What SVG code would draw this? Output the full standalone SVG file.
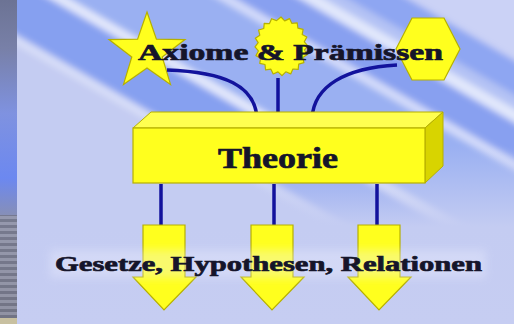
<svg xmlns="http://www.w3.org/2000/svg" width="514" height="324" viewBox="0 0 514 324">
<defs>
<linearGradient id="strip" x1="0" y1="0" x2="0" y2="1">
<stop offset="0" stop-color="#6c7394"/>
<stop offset="0.15" stop-color="#7880a8"/>
<stop offset="0.35" stop-color="#7f92e0"/>
<stop offset="0.55" stop-color="#6c88f0"/>
<stop offset="0.68" stop-color="#8a90b0"/>
<stop offset="1" stop-color="#7a7c8c"/>
</linearGradient>
<pattern id="lines" width="17" height="6" patternUnits="userSpaceOnUse">
<rect width="17" height="3" fill="#9a9cac"/>
<rect y="3" width="17" height="3" fill="#6e7080"/>
</pattern>
<linearGradient id="fade" x1="0" y1="0" x2="0" y2="1">
<stop offset="0" stop-color="#c4ccf2" stop-opacity="0"/>
<stop offset="0.45" stop-color="#c4ccf2" stop-opacity="0"/>
<stop offset="0.7" stop-color="#c4ccf2" stop-opacity="1"/>
<stop offset="1" stop-color="#c6cdf2" stop-opacity="1"/>
</linearGradient>
<filter id="blur" x="-10%" y="-10%" width="120%" height="120%"><feGaussianBlur stdDeviation="3"/></filter>
<filter id="halo" x="-10%" y="-50%" width="120%" height="200%"><feGaussianBlur stdDeviation="4"/></filter>
</defs>
<style>
.shape{fill:#ffff1e;stroke:#b6b000;stroke-width:1.2}
.top{fill:#ffff50;stroke:#b6b000;stroke-width:1}
.side{fill:#d8d400;stroke:#b6b000;stroke-width:1}
.lbl{font-family:"Liberation Serif","Times New Roman",serif;font-weight:bold;fill:#15152a;stroke:#15152a;stroke-width:0.7}
.conn{fill:none;stroke:#12129c;stroke-width:3.5;stroke-linecap:butt}
</style>

<!-- background -->
<rect x="0" y="0" width="514" height="324" fill="#c4ccf2"/>
<g filter="url(#blur)">
<g transform="rotate(30)">
<rect x="-60" y="-320" width="760" height="115" fill="#cbd2f6"/>
<rect x="-60" y="-205" width="760" height="30" fill="#8ea6f2"/>
<rect x="-60" y="-175" width="760" height="12" fill="#b4c2f4"/>
<rect x="-60" y="-163" width="760" height="12" fill="#e2e8fc"/>
<rect x="-60" y="-151" width="760" height="32" fill="#88a0f0"/>
<rect x="-60" y="-119" width="760" height="9" fill="#d4dcfa"/>
<rect x="-60" y="-110" width="760" height="74" fill="#9ab0f2"/>
<rect x="-60" y="-36" width="760" height="10" fill="#e4e9fc"/>
<rect x="-60" y="-26" width="760" height="48" fill="#86a0f0"/>
<rect x="-60" y="22" width="760" height="9" fill="#d8def8"/>
<rect x="-60" y="31" width="760" height="300" fill="#c4ccf2"/>
</g>
</g>
<rect x="0" y="0" width="514" height="324" fill="url(#fade)"/>
<rect x="0" y="0" width="17" height="324" fill="url(#strip)"/>
<rect x="0" y="215" width="17" height="105" fill="url(#lines)" opacity="0.7"/>
<rect x="0" y="318" width="17" height="6" fill="#c8c0a0"/>

<!-- top shapes -->
<g id="star">
<polygon class="shape" points="147,12 156.4,39.1 185,39.6 162.2,56.9 170.5,84.4 147,68 123.5,84.4 131.8,56.9 109,39.6 137.6,39.1"/>
</g>
<g id="sun">
<polygon class="shape" points="281,17 284.7,20.9 289.5,18.6 291.9,23.4 297.2,22.8 297.9,28.1 303.1,29.3 302.2,34.5 306.8,37.1 304.3,41.8 307.8,45.9 304.5,50 307.3,54.6 302.8,57.5 303.9,62.7 298.7,64.1 298.2,69.4 292.9,69.0 290.7,73.9 285.8,71.8 282,75.6 278,71.9 273.2,74 270.9,69.2 265.6,69.9 265,64.5 259.8,63.4 260.6,58.1 256,55.6 258.4,50.9 255,46.9 258.2,42.7 255.3,38.2 259.8,35.2 258.6,30.0 263.8,28.5 264.2,23.3 269.5,23.6 271.6,18.7 276.5,20.6" stroke-linejoin="round"/>
</g>
<g id="hexagon">
<polygon class="shape" points="396,49 412,18 444,18 460,49 444,80 412,80"/>
</g>
<g id="top-label">
<text class="lbl" x="138" y="60" font-size="24" textLength="305" lengthAdjust="spacingAndGlyphs">Axiome &amp; Prämissen</text>
</g>

<!-- connectors -->
<g id="connectors">
<path class="conn" d="M167,70 C225,72 255,86 257,118"/>
<path class="conn" d="M278,78 L278,118"/>
<path class="conn" d="M397,65 C345,68 314,86 312,118"/>
<path class="conn" d="M161,184 L161,226"/>
<path class="conn" d="M274,184 L274,226"/>
<path class="conn" d="M377,184 L377,226"/>
</g>

<!-- theory box -->
<g id="theorie">
<polygon class="top" points="133,128 151,112 443,112 425,128"/>
<polygon class="side" points="425,128 443,112 443,166 425,183"/>
<rect class="shape" x="133" y="128" width="292" height="55"/>
<text class="lbl" x="218" y="168" font-size="29" textLength="120" lengthAdjust="spacingAndGlyphs">Theorie</text>
</g>

<!-- arrows -->
<g id="arrow1">
<polygon class="shape" points="143,225 185,225 185,277 196,277 164,310 133,277 143,277"/>
</g>
<g id="arrow2">
<polygon class="shape" points="251,225 293,225 293,277 304,277 272,310 241,277 251,277"/>
</g>
<g id="arrow3">
<polygon class="shape" points="358,225 400,225 400,277 411,277 379,310 348,277 358,277"/>
</g>

<g id="bottom-label">
<rect x="50" y="250" width="436" height="28" fill="#eef0ff" opacity="0.35" filter="url(#halo)"/>
<text class="lbl" x="55" y="271" font-size="22" textLength="427" lengthAdjust="spacingAndGlyphs">Gesetze, Hypothesen, Relationen</text>
</g>
</svg>
